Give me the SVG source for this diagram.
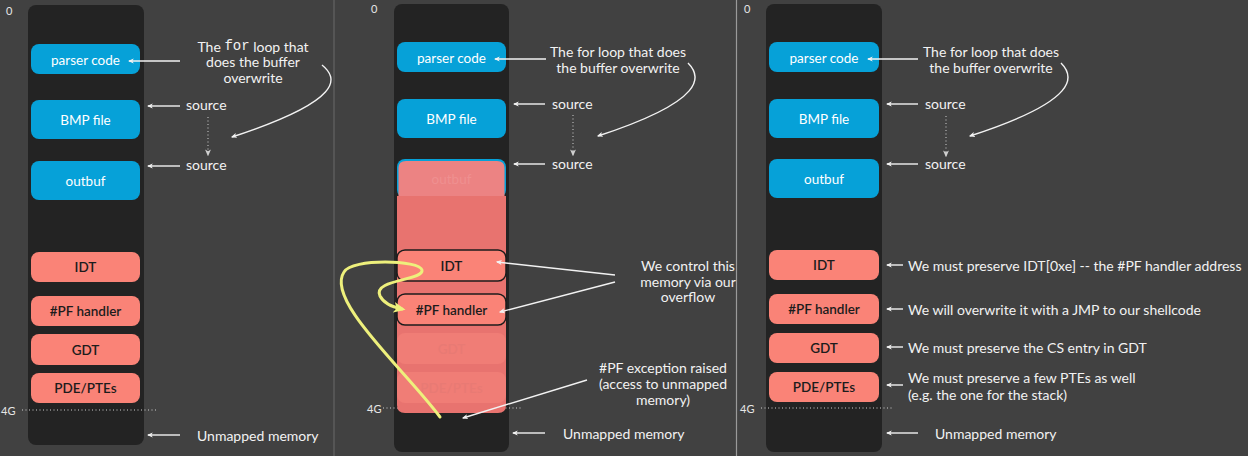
<svg xmlns="http://www.w3.org/2000/svg" width="1248" height="456" viewBox="0 0 1248 456">
<defs>
<style>
.bg{fill:#414141}
.col{fill:#232323}
.blue{fill:#06a1d8}
.sal{fill:#fa8377}
.bt{font-family:Lato,"Liberation Sans",sans-serif;font-size:13.5px;fill:#ffffff;text-anchor:middle;dominant-baseline:central}
.st{font-family:Lato,"Liberation Sans",sans-serif;font-size:13.5px;fill:#1c1c1c;text-anchor:middle;dominant-baseline:central;font-weight:600}
.ann{font-family:Lato,"Liberation Sans",sans-serif;font-size:14px;fill:#f2f2f2;dominant-baseline:central}
.mid{text-anchor:middle}
.lbl{font-family:Lato,"Liberation Sans",sans-serif;font-size:11px;fill:#e6e6e6;dominant-baseline:central}
.arr{stroke:#f2f2f2;stroke-width:1.4;fill:none;marker-end:url(#ah)}
.dot{stroke:#d0d0d0;stroke-width:1;stroke-dasharray:1 2.5;fill:none}
.sep{stroke:#5c5c5c;stroke-width:1.5}
</style>
<marker id="ah" viewBox="0 0 10 10" refX="8" refY="5" markerWidth="6" markerHeight="6" orient="auto-start-reverse" markerUnits="userSpaceOnUse">
<path d="M0,0.8 L10,5 L0,9.2 L2.5,5 z" fill="#f2f2f2"/>
</marker>
<marker id="ahs" viewBox="0 0 10 10" refX="8" refY="5" markerWidth="7" markerHeight="7" orient="auto" markerUnits="userSpaceOnUse">
<path d="M0,0.8 L10,5 L0,9.2 L2.5,5 z" fill="#d0d0d0"/>
</marker>
<marker id="ay" viewBox="0 0 10 10" refX="7" refY="5" markerWidth="12" markerHeight="12" orient="auto" markerUnits="userSpaceOnUse">
<path d="M0,0.5 L10,5 L0,9.5 L2.5,5 z" fill="#eef07c"/>
</marker>
</defs>
<rect class="bg" x="0" y="0" width="1248" height="456"/>
<line class="sep" x1="334" y1="0" x2="334" y2="456"/>
<line x1="736.5" y1="0" x2="736.5" y2="456" stroke="#9a9a9a" stroke-width="1.2"/>

<!-- Panel 1 -->
<g id="p1-column"><rect class="col" x="28" y="5" width="116" height="440" rx="8"/></g>
<text class="lbl" x="6" y="10">0</text>
<text class="lbl" x="1" y="410">4G</text>
<line class="dot" x1="22" y1="410" x2="156" y2="410"/>
<g id="p1-parser"><rect class="blue" x="31" y="44" width="109" height="30" rx="8"/><text class="bt" x="85.5" y="59.5">parser code</text></g>
<g id="p1-bmp"><rect class="blue" x="31" y="100" width="109" height="39" rx="8"/><text class="bt" x="85.5" y="120">BMP file</text></g>
<g id="p1-outbuf"><rect class="blue" x="31" y="161" width="109" height="39" rx="8"/><text class="bt" x="85.5" y="181">outbuf</text></g>
<g id="p1-idt"><rect class="sal" x="31" y="252" width="109" height="30" rx="8"/><text class="st" x="85.5" y="267">IDT</text></g>
<g id="p1-pf"><rect class="sal" x="31" y="296" width="109" height="30" rx="8"/><text class="st" x="85.5" y="311">#PF handler</text></g>
<g id="p1-gdt"><rect class="sal" x="31" y="334" width="109" height="31" rx="8"/><text class="st" x="85.5" y="349.5">GDT</text></g>
<g id="p1-pde"><rect class="sal" x="31" y="373" width="109" height="30" rx="8"/><text class="st" x="85.5" y="388">PDE/PTEs</text></g>
<g id="p1-notes">
<text class="ann mid" x="253" y="46">The <tspan font-family="'Liberation Mono',monospace">for</tspan> loop that</text>
<text class="ann mid" x="253" y="61">does the buffer</text>
<text class="ann mid" x="253" y="77">overwrite</text>
<text class="ann" x="186" y="104">source</text>
<text class="ann" x="186" y="164">source</text>
<text class="ann" x="197" y="435">Unmapped memory</text>
</g>

<!-- Panel 2 -->
<g id="p2-column"><rect class="col" x="394" y="4" width="115" height="448" rx="8"/></g>
<text class="lbl" x="371" y="8">0</text>
<text class="lbl" x="367" y="408">4G</text>
<line class="dot" x1="383" y1="408" x2="521" y2="408"/>
<g id="p2-parser"><rect class="blue" x="397" y="42" width="109" height="30" rx="8"/><text class="bt" x="451.5" y="57.5">parser code</text></g>
<g id="p2-bmp"><rect class="blue" x="397" y="99" width="109" height="39" rx="8"/><text class="bt" x="451.5" y="119">BMP file</text></g>
<g id="p2-outbuf">
<rect class="blue" x="397" y="159" width="109" height="39" rx="8"/>
<path d="M397,196 L506,196 L506,405 Q506,413 498,413 L405,413 Q397,413 397,405 Z" fill="#e8736f"/>
<path d="M398.5,168 Q398.5,161 406,161 L497,161 Q504.5,161 504.5,168 L504.5,196 L398.5,196 Z" fill="#ec8383"/>
<text class="bt" x="451.5" y="179" style="fill:#ef9090">outbuf</text>
</g>
<g id="p2-gdt"><rect x="397" y="333" width="109" height="31" rx="8" fill="#f07d76"/><text class="st" x="451.5" y="348.5" style="fill:#e87a74">GDT</text></g>
<g id="p2-pde"><rect x="397" y="372" width="109" height="31" rx="8" fill="#f07d76"/><text class="st" x="451.5" y="387.5" style="fill:#e87a74">PDE/PTEs</text></g>
<g id="p2-idt"><rect class="sal" x="397" y="250" width="109" height="31" rx="8" stroke="#1c1c1c" stroke-width="1.5"/><text class="st" x="451.5" y="265.5">IDT</text></g>
<g id="p2-pf"><rect class="sal" x="397" y="294" width="109" height="31" rx="8" stroke="#1c1c1c" stroke-width="1.5"/><text class="st" x="451.5" y="309.5">#PF handler</text></g>
<g id="p2-notes">
<text class="ann mid" x="618" y="51">The for loop that does</text>
<text class="ann mid" x="618" y="67">the buffer overwrite</text>
<text class="ann" x="552" y="103">source</text>
<text class="ann" x="552" y="163">source</text>
<text class="ann mid" x="688" y="265">We control this</text>
<text class="ann mid" x="688" y="281">memory via our</text>
<text class="ann mid" x="688" y="296">overflow</text>
<text class="ann mid" x="663" y="367">#PF exception raised</text>
<text class="ann mid" x="663" y="383">(access to unmapped</text>
<text class="ann mid" x="663" y="399">memory)</text>
<text class="ann" x="563" y="433">Unmapped memory</text>
</g>

<!-- Panel 3 -->
<g id="p3-column"><rect class="col" x="766" y="4" width="116" height="448" rx="8"/></g>
<text class="lbl" x="744" y="8">0</text>
<text class="lbl" x="740" y="408">4G</text>
<line class="dot" x1="761" y1="408" x2="893" y2="408"/>
<g id="p3-parser"><rect class="blue" x="769" y="42" width="110" height="30" rx="8"/><text class="bt" x="824" y="57.5">parser code</text></g>
<g id="p3-bmp"><rect class="blue" x="769" y="99" width="110" height="39" rx="8"/><text class="bt" x="824" y="119">BMP file</text></g>
<g id="p3-outbuf"><rect class="blue" x="769" y="159" width="110" height="39" rx="8"/><text class="bt" x="824" y="179">outbuf</text></g>
<g id="p3-idt"><rect class="sal" x="769" y="250" width="110" height="30" rx="8"/><text class="st" x="824" y="265">IDT</text></g>
<g id="p3-pf"><rect class="sal" x="769" y="294" width="110" height="30" rx="8"/><text class="st" x="824" y="309">#PF handler</text></g>
<g id="p3-gdt"><rect class="sal" x="769" y="333" width="110" height="30" rx="8"/><text class="st" x="824" y="348">GDT</text></g>
<g id="p3-pde"><rect class="sal" x="769" y="372" width="110" height="30" rx="8"/><text class="st" x="824" y="387">PDE/PTEs</text></g>
<g id="p3-notes">
<text class="ann mid" x="991" y="51">The for loop that does</text>
<text class="ann mid" x="991" y="67">the buffer overwrite</text>
<text class="ann" x="925" y="103">source</text>
<text class="ann" x="925" y="163">source</text>
<text class="ann" x="908" y="265">We must preserve IDT[0xe] -- the #PF handler address</text>
<text class="ann" x="908" y="309">We will overwrite it with a JMP to our shellcode</text>
<text class="ann" x="908" y="347">We must preserve the CS entry in GDT</text>
<text class="ann" x="908" y="377">We must preserve a few PTEs as well</text>
<text class="ann" x="908" y="394">(e.g. the one for the stack)</text>
<text class="ann" x="935" y="433">Unmapped memory</text>
</g>

<g id="connectors">
<!-- panel 1 -->
<line class="arr" x1="180" y1="61" x2="129" y2="61"/>
<line class="arr" x1="180" y1="106" x2="148" y2="106"/>
<line class="arr" x1="180" y1="166" x2="148" y2="166"/>
<line class="dot" x1="208" y1="117" x2="208" y2="155" marker-end="url(#ahs)"/>
<path class="arr" d="M322,65 C338,78 345,100 232,137"/>
<line class="arr" x1="180" y1="435" x2="148" y2="435"/>
<!-- panel 2 -->
<line class="arr" x1="546" y1="59" x2="495" y2="59"/>
<line class="arr" x1="545" y1="104" x2="514" y2="104"/>
<line class="arr" x1="545" y1="164" x2="514" y2="164"/>
<line class="dot" x1="573" y1="115" x2="573" y2="155" marker-end="url(#ahs)"/>
<path class="arr" d="M688,63 C701,76 708,100 598,136"/>
<line class="arr" x1="615" y1="275" x2="497" y2="262"/>
<line class="arr" x1="615" y1="282" x2="500" y2="312"/>
<line class="arr" x1="587" y1="380" x2="463" y2="418"/>
<line class="arr" x1="545" y1="433" x2="513" y2="433"/>
<path d="M440,417 C405,370 325,300 344,272 C352,258 420,260 422,270 C424,281 372,279 380,296 C384,304 392,307 402,309" fill="none" stroke="#eef07c" stroke-width="3" stroke-linecap="round" marker-end="url(#ay)"/>
<!-- panel 3 -->
<line class="arr" x1="918" y1="59" x2="868" y2="59"/>
<line class="arr" x1="918" y1="104" x2="887" y2="104"/>
<line class="arr" x1="918" y1="164" x2="887" y2="164"/>
<line class="dot" x1="946" y1="116" x2="946" y2="156" marker-end="url(#ahs)"/>
<path class="arr" d="M1061,63 C1074,76 1081,100 970,136"/>
<line class="arr" x1="903" y1="265" x2="887" y2="265"/>
<line class="arr" x1="903" y1="309" x2="887" y2="309"/>
<line class="arr" x1="903" y1="347" x2="887" y2="347"/>
<line class="arr" x1="903" y1="385" x2="887" y2="385"/>
<line class="arr" x1="918" y1="433" x2="887" y2="433"/>
</g>
</svg>
